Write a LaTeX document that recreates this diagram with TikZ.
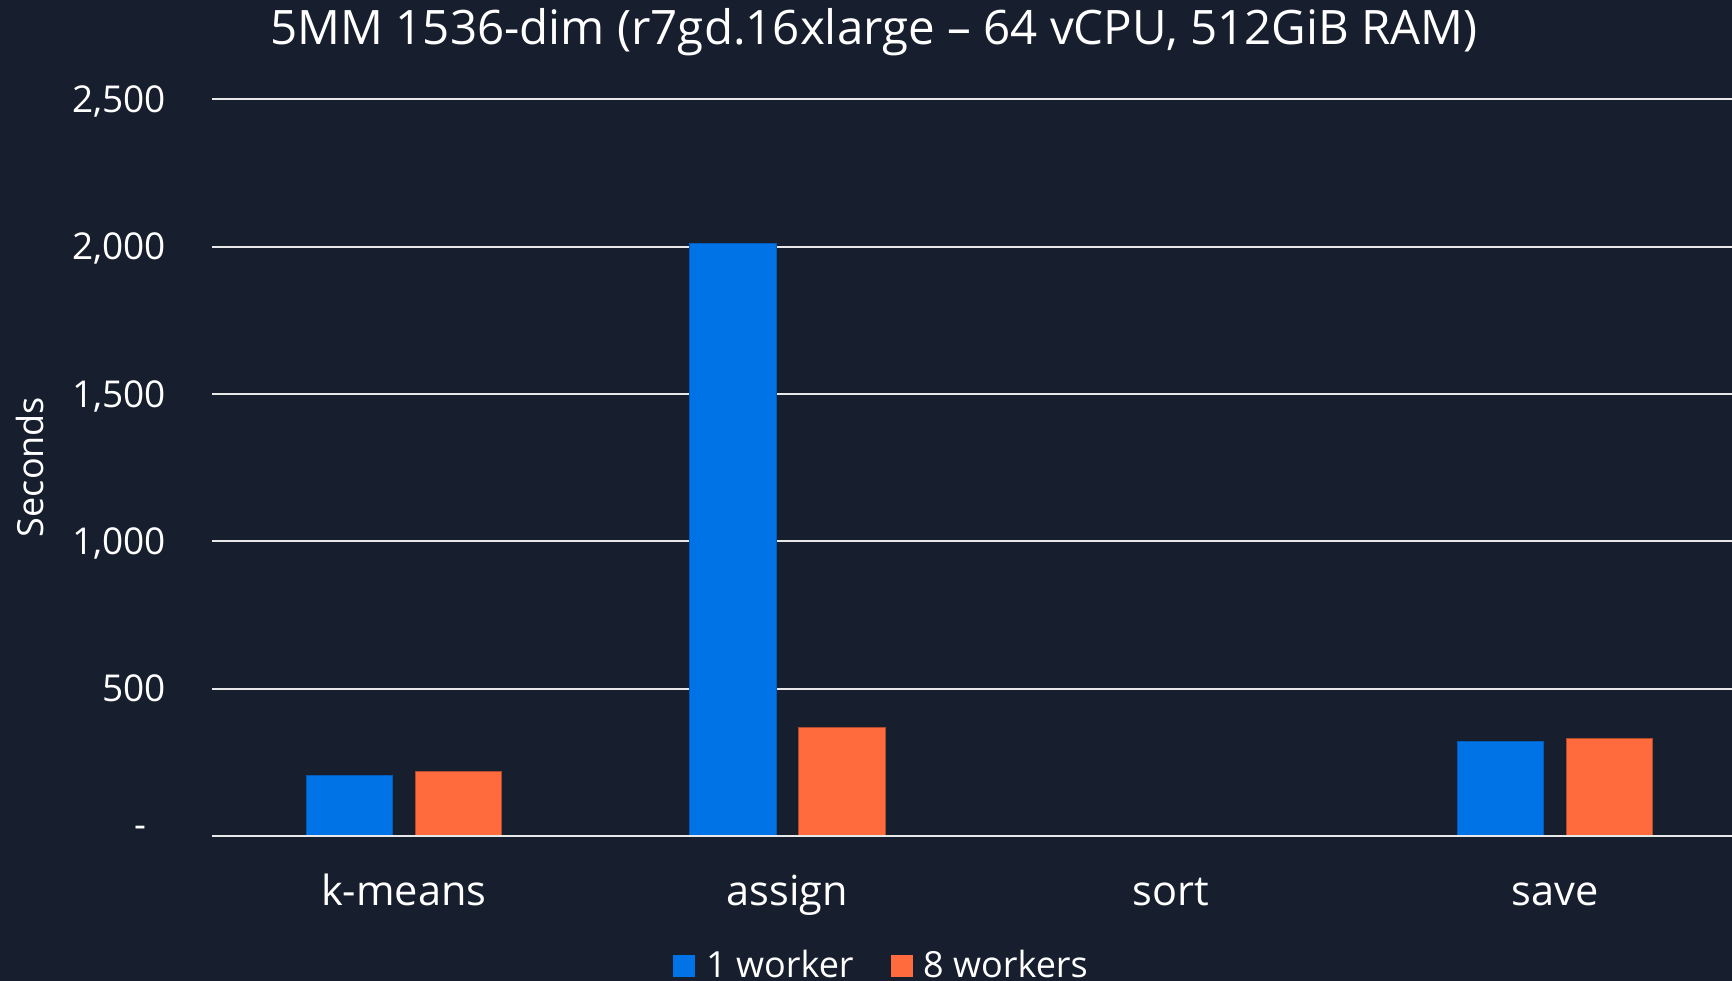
\documentclass[tikz,border=0pt]{standalone}
\usepackage{fontspec}
\setmainfont{Open Sans}
\definecolor{bg}{HTML}{171E2D}
\definecolor{bblue}{HTML}{0073E6}
\definecolor{borange}{HTML}{FF6B3D}
\definecolor{grid}{HTML}{E8E8E8}
\begin{document}
\begin{tikzpicture}[x=1pt,y=-1pt,
  txt/.style={text=white,inner sep=0pt},
  gridline/.style={draw=grid,line width=2pt},
  bluebar/.style={fill=bblue,draw=bblue!80!black,line width=0.8pt},
  orangebar/.style={fill=borange,draw=borange!70!black,line width=0.8pt}]
\fill[bg] (0,0) rectangle (1732,981);
\useasboundingbox (0,0) rectangle (1732,981);
% title
\node[txt,anchor=base,font=\fontsize{47.5}{56}\selectfont] (title) at (874,45) {5MM 1536-dim (r7gd.16xlarge – 64 vCPU, 512GiB RAM)};
% gridlines and tick labels
\foreach \k/\lab in {1/500,2/{1,000},3/{1,500},4/{2,000},5/{2,500}}{
  \draw[gridline] (212,835.8-147.28*\k) -- (1732,835.8-147.28*\k);
  \node[txt,anchor=base east,font=\fontsize{37}{44}\selectfont] (tick\k) at (166,835.8-147.28*\k+13.2) {\lab};
}
\node[txt,font=\fontsize{37}{44}\selectfont] (tick0) at (140.5,832) {-};
\node[txt,rotate=90,font=\fontsize{36}{42}\selectfont] (ylab) at (30,467) {Seconds};
% bars
\foreach \cx/\vb/\vo in {403.8/206/219, 787.5/2011/368, 1554.9/321/329}{
  \path[bluebar] (\cx-97.8,835.8) rectangle (\cx-11.6,835.8-0.29456*\vb);
  \path[orangebar] (\cx+11.2,835.8) rectangle (\cx+97.5,835.8-0.29456*\vo);
}
\draw[gridline] (212,835.8) -- (1732,835.8);
% category labels
\foreach \cx/\name/\lab in {403.8/ckm/k-means, 787.5/cas/assign, 1171.2/cso/sort, 1554.9/csa/save}{
  \node[txt,anchor=base,font=\fontsize{41.5}{48}\selectfont] (\name) at (\cx,905) {\lab};
}
% legend
\fill[bblue] (673,955) rectangle (695,977);
\node[txt,anchor=base west,font=\fontsize{36}{42}\selectfont] (leg1) at (706,977) {1 worker};
\fill[borange] (891,955) rectangle (913,977);
\node[txt,anchor=base west,font=\fontsize{36}{42}\selectfont] (leg2) at (923,977) {8 workers};
\end{tikzpicture}
\end{document}
